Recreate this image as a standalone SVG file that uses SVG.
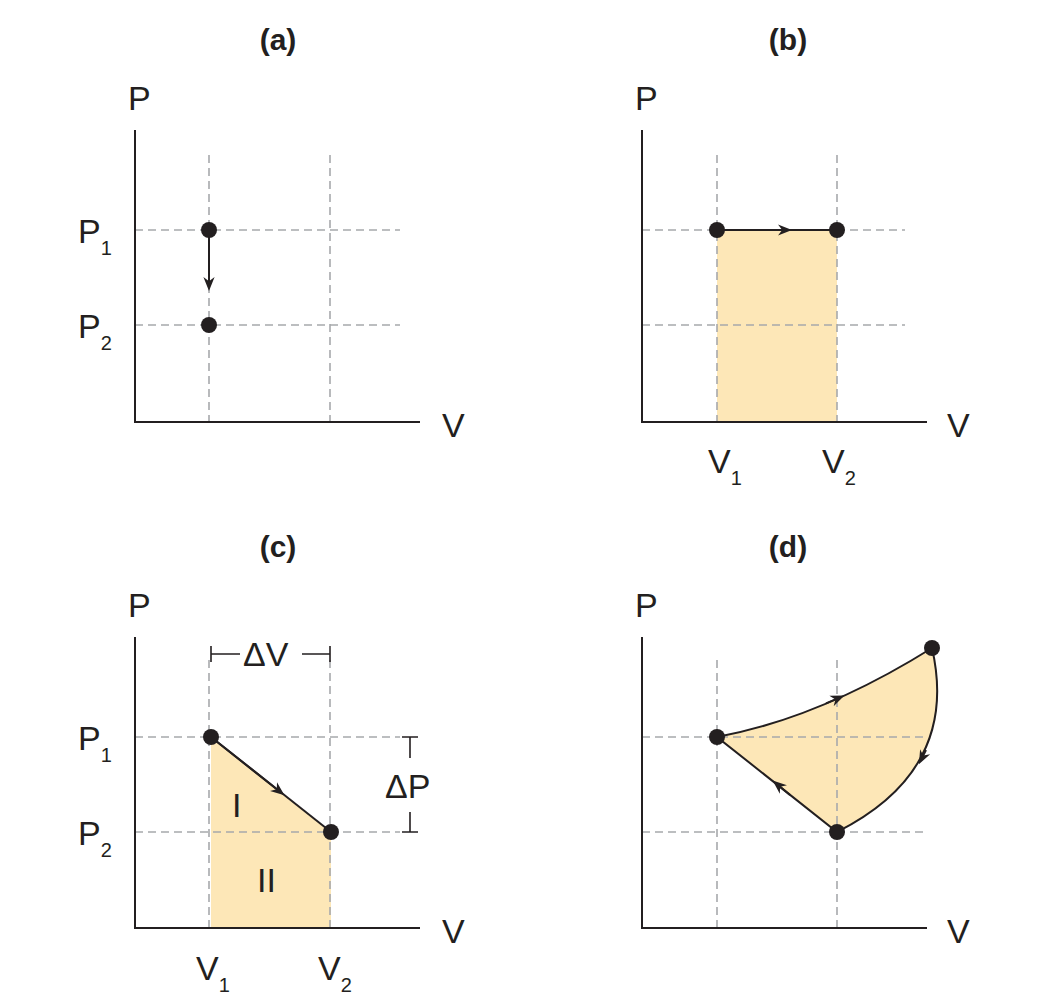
<svg xmlns="http://www.w3.org/2000/svg" width="1063" height="1004" viewBox="0 0 1063 1004">
<style>
.ax{stroke:#231f20;stroke-width:2;fill:none}
.dash{stroke:#a7a9ac;stroke-width:1.6;stroke-dasharray:8,5;fill:none}
.ln{stroke:#231f20;stroke-width:2;fill:none}
.fill{fill:#fde7b7;stroke:none}
.t{font-family:"Liberation Sans",Arial,sans-serif;font-size:34px;fill:#231f20}
.s{font-size:20px}
.h{font-family:"Liberation Sans",Arial,sans-serif;font-size:30px;font-weight:bold;fill:#231f20;text-anchor:middle}
</style>
<defs>
<marker id="ar" viewBox="0 0 10 10" refX="5" refY="5" markerWidth="7" markerHeight="7" orient="auto"><path d="M0,1 L10,5 L0,9 L3,5 Z" fill="#231f20"/></marker>
</defs>
<g id="panel-a">
<text class="h" x="278" y="50">(a)</text>
<path class="dash" d="M209,155V422M330,155V422M135,230H400M135,325H400"/>
<path class="ax" d="M135,130V422H420"/>
<text class="t" x="128" y="110">P</text><text class="t" x="442" y="437">V</text>
<text class="t" x="78" y="243">P<tspan class="s" dy="12">1</tspan></text>
<text class="t" x="78" y="338">P<tspan class="s" dy="12">2</tspan></text>
</g>
<g id="panel-b">
<text class="h" x="788" y="50">(b)</text>
<rect class="fill" x="717" y="230" width="120" height="192"/>
<path class="dash" d="M717,155V422M837,155V422M642,230H905M642,325H905"/>
<path class="ax" d="M642,130V422H927"/>
<text class="t" x="635" y="110">P</text><text class="t" x="947" y="437">V</text>
<text class="t" x="708" y="473">V<tspan class="s" dy="12">1</tspan></text>
<text class="t" x="822" y="473">V<tspan class="s" dy="12">2</tspan></text>
</g>
<g id="panel-c">
<text class="h" x="278" y="557">(c)</text>
<polygon class="fill" points="211,737 331,832 331,928 211,928"/>
<path class="dash" d="M209,660V928M330,660V928M135,737H400M135,832H400"/>
<path class="ax" d="M135,637V928H420"/>
<text class="t" x="128" y="617">P</text><text class="t" x="442" y="943">V</text>
<text class="t" x="78" y="750">P<tspan class="s" dy="12">1</tspan></text>
<text class="t" x="78" y="845">P<tspan class="s" dy="12">2</tspan></text>
<text class="t" x="196" y="980">V<tspan class="s" dy="12">1</tspan></text>
<text class="t" x="318" y="980">V<tspan class="s" dy="12">2</tspan></text>
<text class="t" x="232" y="817">I</text><text class="t" x="257" y="892">II</text>
<path class="ln" style="stroke-width:1.6" d="M211,646V662M330,646V662M211,654H240M302,654H330M402,737H418M402,832H418M410,737V758M410,812V832"/>
<text class="t" x="243" y="666">ΔV</text>
<text class="t" x="385" y="798">ΔP</text>
</g>
<g id="panel-d">
<text class="h" x="788" y="557">(d)</text>
<path class="fill" d="M717,737 Q820,718 932,648 Q960,770 837,832 Z"/>
<path class="dash" d="M717,660V928M837,660V928M642,737H925M642,832H925"/>
<path class="ax" d="M642,637V928H927"/>
<text class="t" x="635" y="617">P</text><text class="t" x="947" y="943">V</text>
</g>
<g id="connectors">
<path class="ln" d="M209,230V284" marker-end="url(#ar)"/>
<path class="ln" d="M717,230H785" marker-end="url(#ar)"/>
<path class="ln" d="M717,230H837"/>
<path class="ln" d="M211,737L331,832"/>
<path class="ln" d="M211,737L279,791" marker-end="url(#ar)"/>
<path class="ln" d="M717,737 Q820,718 932,648 Q960,770 837,832 Z"/>
<path class="ln" d="M826,703.3L838,698.3" marker-end="url(#ar)"/>
<path class="ln" d="M926,750L922,758" marker-end="url(#ar)"/>
<path class="ln" d="M790,795L778,785" marker-end="url(#ar)"/>
</g>
<g id="dots" fill="#231f20">
<circle cx="209" cy="230" r="8"/><circle cx="209" cy="325" r="8"/>
<circle cx="717" cy="230" r="8"/><circle cx="837" cy="230" r="8"/>
<circle cx="211" cy="737" r="8"/><circle cx="331" cy="832" r="8"/>
<circle cx="717" cy="737" r="8"/><circle cx="837" cy="832" r="8"/><circle cx="932" cy="648" r="8"/>
</g>
</svg>
